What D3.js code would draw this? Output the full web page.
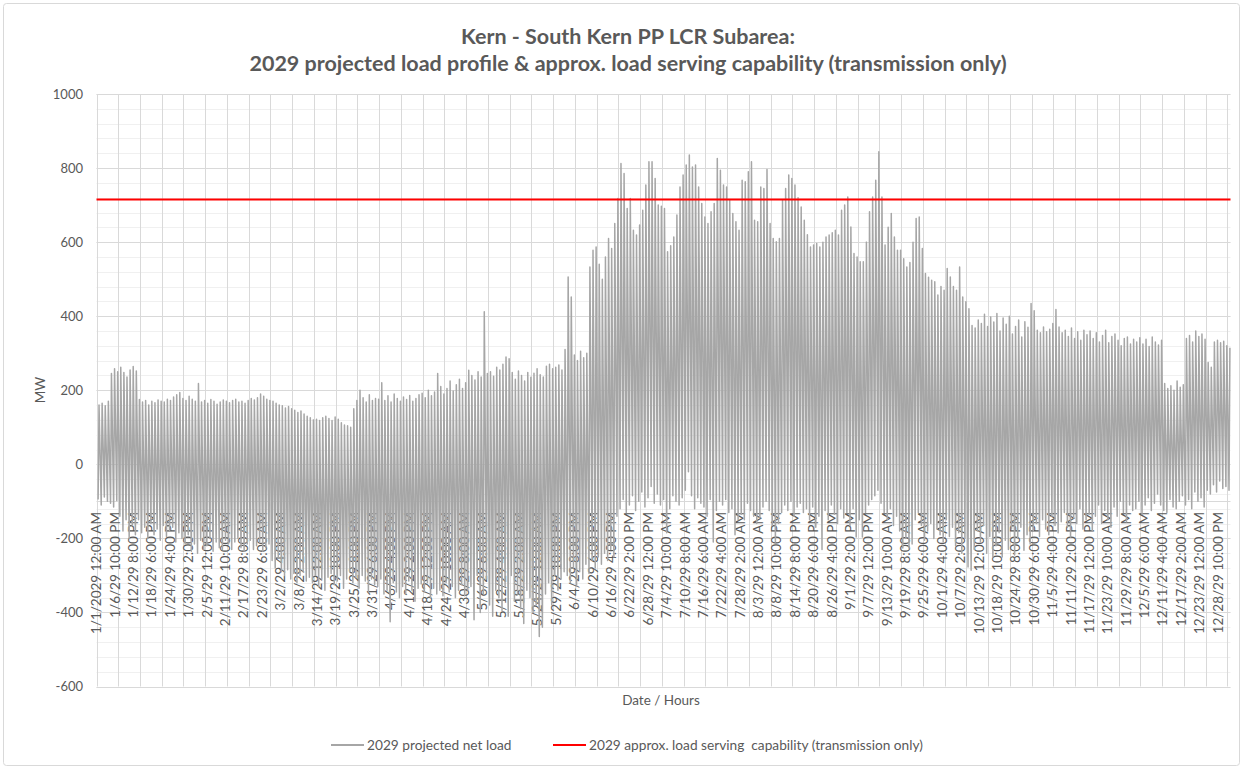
<!DOCTYPE html>
<html>
<head>
<meta charset="utf-8">
<script src="https://d3js.org/d3.v7.min.js"></script>
<style>
  html, body { margin: 0; padding: 0; background: #fff; }
  svg text { font-family: Lato, "Open Sans", sans-serif; fill: #595959; }
</style>
</head>
<body>
<div id="chart"></div>
<script>
'use strict';

// Daily evening peak and midday low of the net load (MW), one array per month
const janPeak = [160,165,158,170,245,258,250,262,248,236,255,264,252,175,168,172,160,170,166,174,170,168,176,172,182,188,194,178,172,184,176];
const febPeak = [170,218,168,172,165,175,170,162,168,174,170,166,172,176,168,170,165,172,178,174,180,190,184,176,172,170,165,160];
const marPeak = [158,152,156,150,146,140,144,136,130,126,120,122,118,126,130,124,118,128,122,112,106,104,100,150,172,200,180,168,188,172,178];
const aprPeak = [176,220,172,185,168,190,178,170,182,175,186,170,178,188,192,180,200,185,195,245,210,190,205,225,198,215,230,205,220,254];
const mayPeak = [240,228,250,236,412,245,250,238,262,255,270,290,285,248,230,252,240,225,248,235,246,258,242,236,265,270,258,262,268,255,310];
const junPeak = [506,452,295,280,305,288,300,533,578,587,540,500,560,610,583,650,718,812,785,691,718,632,619,646,686,754,817,817,772,700];
const julPeak = [697,691,574,590,614,673,749,781,808,835,803,808,749,704,668,650,682,704,826,794,754,749,713,677,655,632,767,763,790,817,659];
const augPeak = [655,749,745,796,650,610,601,610,713,745,781,772,754,720,695,659,620,587,592,596,587,600,614,619,625,632,619,686,700,722,641];
const sepPeak = [569,560,547,547,600,682,722,767,844,722,592,640,677,614,578,578,555,533,545,600,664,668,583,515,505,497,493,457,480,470];
const octPeak = [529,506,480,470,533,452,439,420,375,368,390,380,405,372,398,384,407,360,395,378,400,352,372,390,344,385,370,434,415,362,355];
const novPeak = [371,358,365,380,418,371,355,362,345,368,340,358,335,362,350,360,340,355,330,348,362,328,345,352,335,320,340,344,325,338];
const decPeak = [330,342,325,338,318,344,330,322,335,218,205,212,200,225,208,215,340,348,330,360,345,352,338,275,262,330,335,328,332,320,315];

const janLow = [-95,-110,-88,-100,-105,-115,-98,-140,-180,-150,-200,-165,-190,-150,-185,-170,-200,-160,-190,-175,-205,-165,-195,-180,-170,-210,-185,-200,-215,-190,-235];
const febLow = [-215,-240,-205,-230,-220,-200,-235,-210,-225,-230,-205,-215,-230,-210,-200,-225,-235,-215,-205,-230,-220,-210,-235,-225,-215,-260,-280,-250];
const marLow = [-290,-300,-285,-310,-295,-320,-300,-290,-315,-305,-320,-300,-330,-310,-340,-305,-295,-325,-315,-300,-335,-310,-290,-320,-305,-335,-300,-315,-345,-310,-325];
const aprLow = [-330,-310,-350,-340,-425,-320,-345,-360,-330,-350,-315,-340,-370,-335,-323,-345,-320,-360,-335,-350,-340,-355,-320,-345,-330,-360,-340,-325,-355,-340];
const mayLow = [-330,-420,-300,-400,-350,-310,-380,-410,-340,-360,-395,-330,-410,-300,-370,-350,-390,-430,-340,-360,-400,-380,-465,-440,-350,-320,-380,-300,-340,-310,-290];
const junLow = [-300,-320,-280,-330,-290,-310,-270,-295,-260,-280,-250,-270,-240,-260,-230,-250,-140,-120,-95,-130,-110,-85,-125,-100,-75,-115,-90,-60,-105,-80];
const julLow = [-110,-95,-185,-120,-85,-100,-110,-90,-70,-20,-85,-120,-90,-105,-115,-140,-95,-210,-125,-100,-110,-95,-130,-120,-190,-150,-135,-150,-105,-125,-140];
const augLow = [-160,-145,-115,-100,-125,-165,-210,-160,-130,-110,-125,-100,-140,-115,-105,-130,-120,-150,-115,-170,-140,-230,-125,-150,-110,-135,-160,-120,-145,-130,-165];
const sepLow = [-120,-196,-150,-196,-130,-110,-95,-85,-70,-105,-130,-150,-120,-165,-140,-180,-226,-200,-226,-215,-150,-130,-165,-205,-180,-160,-200,-175,-190,-210];
const octLow = [-150,-195,-170,-220,-185,-240,-200,-277,-286,-230,-180,-210,-165,-240,-195,-250,-220,-185,-250,-205,-230,-175,-245,-200,-170,-232,-190,-215,-180,-160,-195];
const novLow = [-150,-175,-190,-140,-165,-185,-155,-130,-170,-196,-145,-160,-120,-175,-150,-135,-180,-140,-110,-160,-125,-150,-170,-115,-140,-100,-130,-155,-110,-125];
const decLow = [-120,-100,-135,-110,-90,-125,-105,-80,-110,-125,-130,-95,-115,-120,-100,-85,-110,-95,-120,-75,-100,-90,-115,-70,-80,-55,-75,-45,-65,-60,-70];

// Category labels shown on the axis (every 142nd hour)
const hourLabels = [
  "1/1/2029 12:00 AM","1/6/29 10:00 PM","1/12/29 8:00 PM","1/18/29 6:00 PM","1/24/29 4:00 PM","1/30/29 2:00 PM",
  "2/5/29 12:00 PM","2/11/29 10:00 AM","2/17/29 8:00 AM","2/23/29 6:00 AM","3/2/29 4:00 AM","3/8/29 2:00 AM",
  "3/14/29 12:00 AM","3/19/29 10:00 PM","3/25/29 8:00 PM","3/31/29 6:00 PM","4/6/29 4:00 PM","4/12/29 2:00 PM",
  "4/18/29 12:00 PM","4/24/29 10:00 AM","4/30/29 8:00 AM","5/6/29 6:00 AM","5/12/29 4:00 AM","5/18/29 2:00 AM",
  "5/24/29 12:00 AM","5/29/29 10:00 PM","6/4/29 8:00 PM","6/10/29 6:00 PM","6/16/29 4:00 PM","6/22/29 2:00 PM",
  "6/28/29 12:00 PM","7/4/29 10:00 AM","7/10/29 8:00 AM","7/16/29 6:00 AM","7/22/29 4:00 AM","7/28/29 2:00 AM",
  "8/3/29 12:00 AM","8/8/29 10:00 PM","8/14/29 8:00 PM","8/20/29 6:00 PM","8/26/29 4:00 PM","9/1/29 2:00 PM",
  "9/7/29 12:00 PM","9/13/29 10:00 AM","9/19/29 8:00 AM","9/25/29 6:00 AM","10/1/29 4:00 AM","10/7/29 2:00 AM",
  "10/13/29 12:00 AM","10/18/29 10:00 PM","10/24/29 8:00 PM","10/30/29 6:00 PM","11/5/29 4:00 PM","11/11/29 2:00 PM",
  "11/17/29 12:00 PM","11/23/29 10:00 AM","11/29/29 8:00 AM","12/5/29 6:00 AM","12/11/29 4:00 AM","12/17/29 2:00 AM",
  "12/23/29 12:00 AM","12/28/29 10:00 PM"
];

const capability = 715;   // approx. load serving capability, MW
const hoursInYear = 8760;
const labelEvery = 142;
const gridEvery = 168;

const dailyPeak = [].concat(janPeak, febPeak, marPeak, aprPeak, mayPeak, junPeak, julPeak, augPeak, sepPeak, octPeak, novPeak, decPeak);
const dailyLow = [].concat(janLow, febLow, marLow, aprLow, mayLow, junLow, julLow, augLow, sepLow, octLow, novLow, decLow);

// one point at the midday low and one at the evening peak for each day
let loadPoints = [];
dailyPeak.forEach(function (p, d) {
  loadPoints.push({hour: d * 24 + 12, mw: dailyLow[d]});
  loadPoints.push({hour: d * 24 + 19, mw: p});
});

const width = 1243;
const height = 769;

const svg = d3.select("#chart").append("svg")
    .attr("width", width)
    .attr("height", height);

// chart border
svg.append("rect")
    .attr("x", 3.5).attr("y", 3.5)
    .attr("width", width - 7).attr("height", height - 7)
    .attr("rx", 3)
    .attr("fill", "#fff")
    .attr("stroke", "#d9d9d9");

const x = d3.scaleLinear().domain([0, hoursInYear]).range([96.5, 1230.5]);
const y = d3.scaleLinear().domain([-600, 1000]).range([686.5, 94]);

// minor horizontal gridlines
svg.append("g").selectAll("line")
  .data(d3.range(-600, 1001, 40))
  .join("line")
    .attr("x1", x(0)).attr("x2", x(hoursInYear))
    .attr("y1", d => Math.round(y(d)) + 0.5).attr("y2", d => Math.round(y(d)) + 0.5)
    .attr("stroke", "#f0f0f0");

// vertical gridlines every week
svg.append("g").selectAll("line")
  .data(d3.range(0, hoursInYear, gridEvery))
  .join("line")
    .attr("x1", d => Math.round(x(d)) + 0.5).attr("x2", d => Math.round(x(d)) + 0.5)
    .attr("y1", y(1000)).attr("y2", y(-600))
    .attr("stroke", "#d9d9d9");

// major horizontal gridlines + labels
const yTicks = y.ticks(8);
svg.append("g").selectAll("line")
  .data(yTicks)
  .join("line")
    .attr("x1", x(0)).attr("x2", x(hoursInYear))
    .attr("y1", d => Math.round(y(d)) + 0.5).attr("y2", d => Math.round(y(d)) + 0.5)
    .attr("stroke", "#d9d9d9");

svg.append("g").selectAll("text")
  .data(yTicks)
  .join("text")
    .attr("x", 83)
    .attr("y", d => y(d))
    .attr("dy", "0.35em")
    .attr("text-anchor", "end")
    .style("font-size", "13px")
    .text(d => d);

// category axis line
svg.append("line")
    .attr("x1", x(0)).attr("x2", x(hoursInYear))
    .attr("y1", Math.round(y(-100)) + 0.5).attr("y2", Math.round(y(-100)) + 0.5)
    .attr("stroke", "#d9d9d9");

// rotated hour labels
svg.append("g").selectAll("text")
  .data(hourLabels)
  .join("text")
    .attr("transform", (d, i) => `translate(${x(i * labelEvery + 0.5)},512) rotate(-90)`)
    .attr("dy", "0.35em")
    .attr("text-anchor", "end")
    .style("font-size", "13.5px")
    .text(d => d);

// net load line
const line = d3.line()
    .x(d => x(d.hour + 0.5))
    .y(d => y(d.mw));

svg.append("path")
    .datum(loadPoints)
    .attr("d", line)
    .attr("fill", "none")
    .attr("stroke", "#a6a6a6")
    .attr("stroke-width", 1.5)
    .attr("stroke-linejoin", "round");

// capability line
svg.append("line")
    .attr("x1", x(0)).attr("x2", x(hoursInYear))
    .attr("y1", y(capability)).attr("y2", y(capability))
    .attr("stroke", "#ff0000")
    .attr("stroke-width", 2);

// titles
svg.append("text")
    .attr("x", 628).attr("y", 44)
    .attr("text-anchor", "middle")
    .style("font-size", "21.5px").style("font-weight", "bold")
    .text("Kern - South Kern PP LCR Subarea:");
svg.append("text")
    .attr("x", 628).attr("y", 71)
    .attr("text-anchor", "middle")
    .style("font-size", "21.5px").style("font-weight", "bold")
    .text("2029 projected load profile & approx. load serving capability (transmission only)");

svg.append("text")
    .attr("transform", "translate(40,390) rotate(-90)")
    .attr("dy", "0.35em")
    .attr("text-anchor", "middle")
    .style("font-size", "13.5px")
    .text("MW");

svg.append("text")
    .attr("x", 661).attr("y", 700)
    .attr("dy", "0.35em")
    .attr("text-anchor", "middle")
    .style("font-size", "13.5px")
    .text("Date / Hours");

// legend
const legendItems = [
  {name: "2029 projected net load", color: "#a6a6a6", x: 331},
  {name: "2029 approx. load serving\u00a0 capability (transmission only)", color: "#ff0000", x: 553}
];
const legend = svg.append("g").selectAll("g")
  .data(legendItems)
  .join("g")
    .attr("transform", d => `translate(${d.x},745)`);
legend.append("line")
    .attr("x1", 0).attr("x2", 33)
    .attr("stroke", d => d.color)
    .attr("stroke-width", 2);
legend.append("text")
    .attr("x", 36)
    .attr("dy", "0.35em")
    .style("font-size", "13.7px")
    .text(d => d.name);
</script>
</body>
</html>
